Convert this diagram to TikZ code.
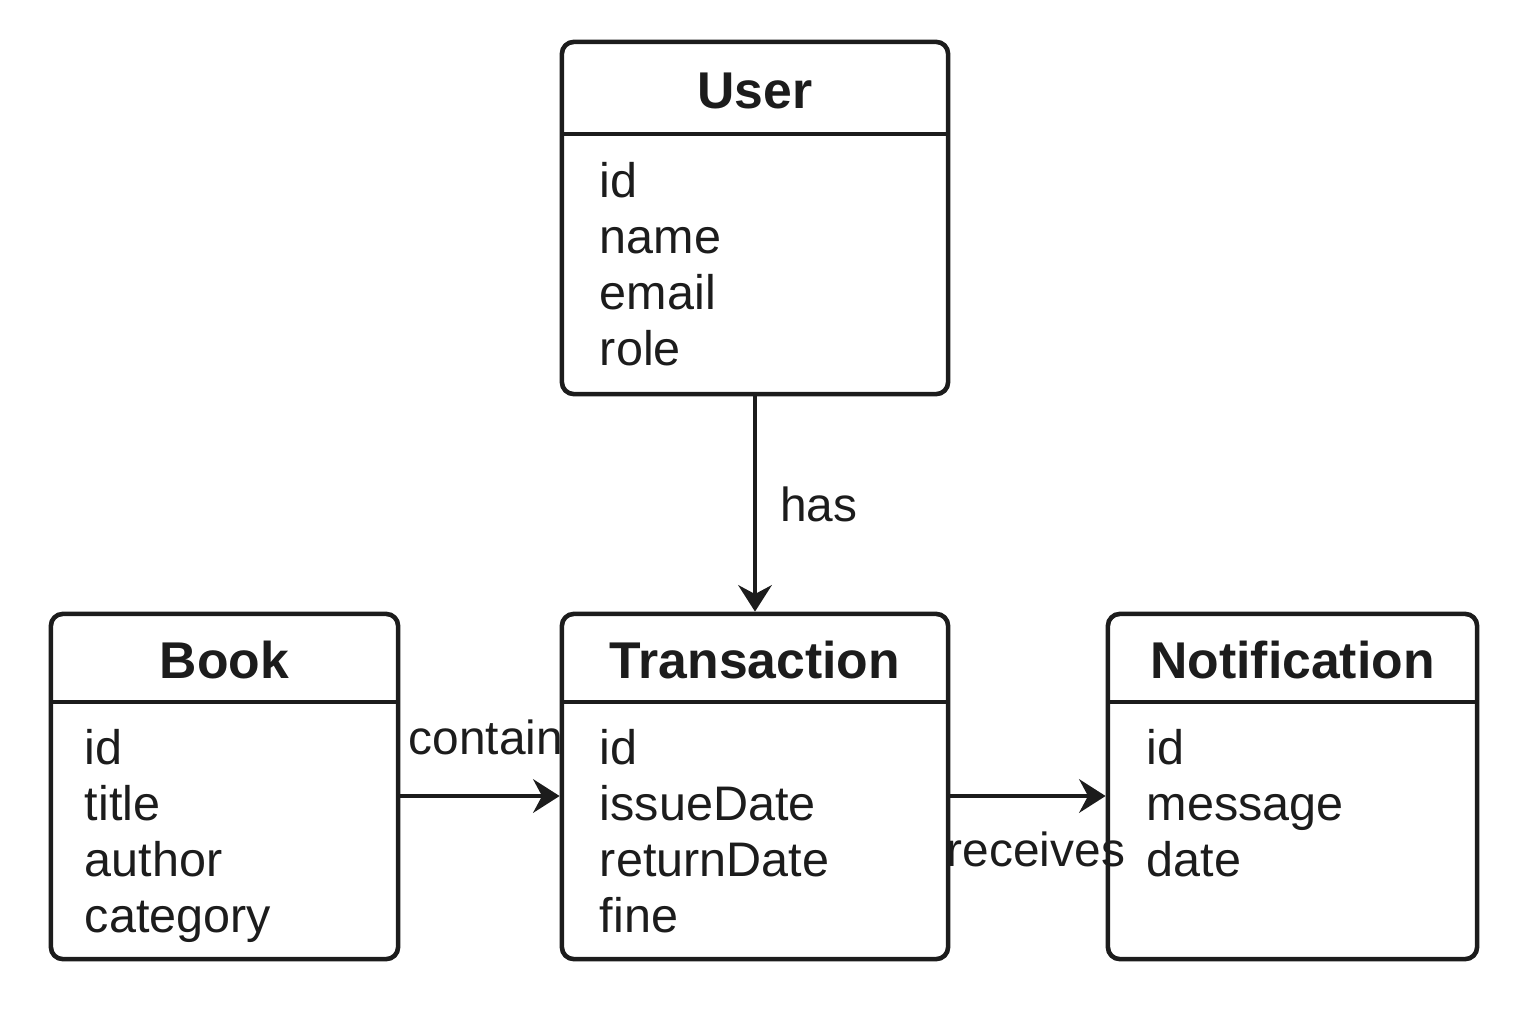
\documentclass[tikz,border=0pt]{standalone}
\usepackage{fontspec}
\setmainfont{Liberation Sans}
\usepackage{xcolor}
\usetikzlibrary{arrows.meta,positioning}
\definecolor{ink}{HTML}{1C1C1C}

\begin{document}
\begin{tikzpicture}[x=0.01cm,y=-0.01cm,
  entity/.style={draw=ink,line width=1.3pt,rounded corners=3.4pt,minimum height=3.45cm},
  head/.style={minimum height=0.89cm,inner sep=0pt,text=ink,text height=12.3pt,text depth=0pt,font=\fontsize{14.7}{17}\selectfont\bfseries},
  attrs/.style={align=left,inner sep=0pt,text=ink,font=\fontsize{13.8}{15.9}\selectfont},
  divider/.style={draw=ink,line width=1.3pt},
  link/.style={draw=ink,line width=1.3pt,-{Stealth[length=7.5pt,width=9.5pt,inset=2.5pt]}},
  lbl/.style={inner sep=0pt,text=ink,font=\fontsize{13.6}{15.9}\selectfont}]
\useasboundingbox (0,0) rectangle (1536,1024);

\node[entity,minimum width=3.86cm,minimum height=3.52cm] (user) at (755,218) {};
\node[entity,minimum width=3.47cm] (book) at (224.5,786.5) {};
\node[entity,minimum width=3.86cm] (trans) at (755,786.5) {};
\node[entity,minimum width=3.69cm] (notif) at (1292.5,786.5) {};

\node[head,minimum width=3.86cm,minimum height=0.93cm,below=0pt of user.north] (userhead) {User};
\node[head,minimum width=3.47cm,below=0pt of book.north] (bookhead) {Book};
\node[head,minimum width=3.86cm,below=0pt of trans.north] (transhead) {Transaction};
\node[head,minimum width=3.69cm,below=0pt of notif.north] (notifhead) {Notification};

\draw[divider] (userhead.south west) -- (userhead.south east);
\draw[divider] (bookhead.south west) -- (bookhead.south east);
\draw[divider] (transhead.south west) -- (transhead.south east);
\draw[divider] (notifhead.south west) -- (notifhead.south east);

\node[attrs,below right=0.28cm and 0.38cm of userhead.south west] (userattrs) {id\\name\\email\\role};
\node[attrs,below right=0.27cm and 0.34cm of bookhead.south west] (bookattrs) {id\\title\\author\\category};
\node[attrs,below right=0.27cm and 0.38cm of transhead.south west] (transattrs) {id\\issueDate\\returnDate\\fine};
\node[attrs,below right=0.27cm and 0.39cm of notifhead.south west] (notifattrs) {id\\message\\date};

\path (user) edge[link] node[lbl,right=0.23cm] {has} (trans);
\path ([yshift=-0.095cm]book.east) edge[link] node[lbl,above=0.39cm,xshift=0.06cm] {contain} ([yshift=-0.095cm]trans.west);
\path ([yshift=-0.095cm]trans.east) edge[link] node[lbl,below=0.34cm,xshift=0.08cm] {receives} ([yshift=-0.095cm]notif.west);
\end{tikzpicture}
\end{document}
